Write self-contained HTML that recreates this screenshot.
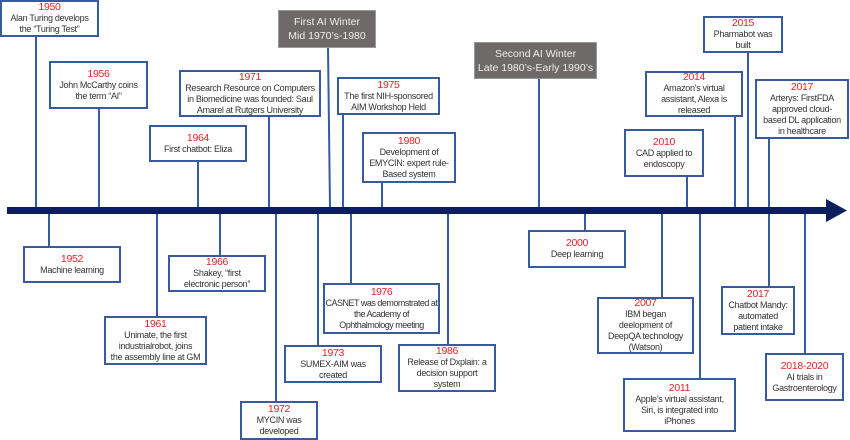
<!DOCTYPE html>
<html><head><meta charset="utf-8"><style>
body{margin:0;width:850px;height:440px;background:#fff;position:relative;overflow:hidden;font-family:"Liberation Sans",sans-serif}
.b{position:absolute;box-sizing:border-box;border:2px solid #3a5a9e;background:#fff;color:#333;font-size:9px;line-height:11px;text-align:center;display:flex;flex-direction:column;justify-content:center;letter-spacing:-0.3px;white-space:nowrap;align-items:center}
.b span{color:#e8202a;font-size:10.5px;line-height:11px}
.g{position:absolute;box-sizing:border-box;background:#6e6a69;border:1px solid #999;color:#eee;font-size:10.5px;line-height:14px;text-align:center;display:flex;flex-direction:column;justify-content:center}
svg{position:absolute;left:0;top:0}
</style></head><body>
<svg width="850" height="440">
<g stroke="#3a5a9e" stroke-width="2">
<line x1="36" y1="37" x2="36" y2="208"/>
<line x1="99" y1="108" x2="99" y2="208"/>
<line x1="269" y1="116" x2="269" y2="208"/>
<line x1="198" y1="161" x2="198" y2="208"/>
<line x1="328" y1="47" x2="330" y2="208"/>
<line x1="343" y1="114" x2="343" y2="208"/>
<line x1="382" y1="182" x2="382" y2="208"/>
<line x1="539" y1="78" x2="539" y2="208"/>
<line x1="687" y1="176" x2="687" y2="208"/>
<line x1="735" y1="116" x2="735" y2="208"/>
<line x1="748" y1="52" x2="748" y2="208"/>
<line x1="769" y1="138" x2="769" y2="208"/>
<line x1="49" y1="212" x2="49" y2="247"/>
<line x1="157" y1="212" x2="157" y2="317"/>
<line x1="220" y1="212" x2="220" y2="256"/>
<line x1="276" y1="212" x2="276" y2="402"/>
<line x1="318" y1="212" x2="318" y2="346"/>
<line x1="351" y1="212" x2="351" y2="284"/>
<line x1="448" y1="212" x2="448" y2="345"/>
<line x1="585" y1="212" x2="585" y2="231"/>
<line x1="662" y1="212" x2="662" y2="298"/>
<line x1="700" y1="212" x2="700" y2="379"/>
<line x1="769" y1="212" x2="769" y2="287"/>
<line x1="805" y1="212" x2="805" y2="354"/>
</g>
<rect x="7" y="207" width="822" height="7" fill="#0b1f5e"/>
<polygon points="826,199 847,210.5 826,222" fill="#0b1f5e"/>
</svg>
<div class="b" style="left:0;top:0;width:99px;height:37px"><span>1950</span>Alan Turing develops<br>the “Turing Test”</div>
<div class="b" style="left:49px;top:61px;width:99px;height:48px"><span>1956</span>John McCarthy coins<br>the term “AI”</div>
<div class="b" style="left:179px;top:70px;width:142px;height:47px"><span>1971</span>Research Resource on Computers<br>in Biomedicine was founded: Saul<br>Amarel at Rutgers University</div>
<div class="b" style="left:149px;top:125px;width:98px;height:37px"><span>1964</span>First chatbot: Eliza</div>
<div class="g" style="left:278px;top:10px;width:98px;height:38px">First AI Winter<br>Mid 1970’s-1980</div>
<div class="b" style="left:337px;top:77px;width:103px;height:38px"><span>1975</span>The first NIH-sponsored<br>AIM Workshop Held</div>
<div class="b" style="left:362px;top:132px;width:94px;height:51px"><span>1980</span>Development of<br>EMYCIN: expert rule-<br>Based system</div>
<div class="g" style="left:474px;top:42px;width:123px;height:37px">Second AI Winter<br>Late 1980’s-Early 1990’s</div>
<div class="b" style="left:624px;top:129px;width:80px;height:48px"><span>2010</span>CAD applied to<br>endoscopy</div>
<div class="b" style="left:645px;top:71px;width:98px;height:46px"><span>2014</span>Amazon’s virtual<br>assistant, Alexa is<br>released</div>
<div class="b" style="left:703px;top:16px;width:80px;height:37px"><span>2015</span>Pharmabot was<br>built</div>
<div class="b" style="left:755px;top:79px;width:94px;height:60px"><span>2017</span>Arterys: FirstFDA<br>approved cloud-<br>based DL application<br>in healthcare</div>
<div class="b" style="left:23px;top:246px;width:98px;height:37px"><span>1952</span>Machine learning</div>
<div class="b" style="left:104px;top:316px;width:103px;height:49px"><span>1961</span>Unimate, the first<br>industrialrobot, joins<br>the assembly line at GM</div>
<div class="b" style="left:168px;top:255px;width:98px;height:37px"><span>1966</span>Shakey, “first<br>electronic person”</div>
<div class="b" style="left:240px;top:401px;width:78px;height:39px"><span>1972</span>MYCIN was<br>developed</div>
<div class="b" style="left:284px;top:345px;width:98px;height:38px"><span>1973</span>SUMEX-AIM was<br>created</div>
<div class="b" style="left:323px;top:283px;width:117px;height:51px;letter-spacing:-0.5px"><span>1976</span>CASNET was demomstrated at<br>the Academy of<br>Ophthalmology meeting</div>
<div class="b" style="left:398px;top:344px;width:98px;height:48px"><span>1986</span>Release of Dxplain: a<br>decision support<br>system</div>
<div class="b" style="left:528px;top:230px;width:98px;height:38px"><span>2000</span>Deep learning</div>
<div class="b" style="left:597px;top:297px;width:97px;height:57px"><span>2007</span>IBM began<br>deelopment of<br>DeepQA technology<br>(Watson)</div>
<div class="b" style="left:623px;top:378px;width:113px;height:54px"><span>2011</span>Apple’s virtual assistant,<br>Siri, is integrated into<br>iPhones</div>
<div class="b" style="left:721px;top:286px;width:74px;height:49px"><span>2017</span>Chatbot Mandy:<br>automated<br>patient intake</div>
<div class="b" style="left:765px;top:353px;width:79px;height:48px"><span>2018-2020</span>AI trials in<br>Gastroenterology</div>
</body></html>
